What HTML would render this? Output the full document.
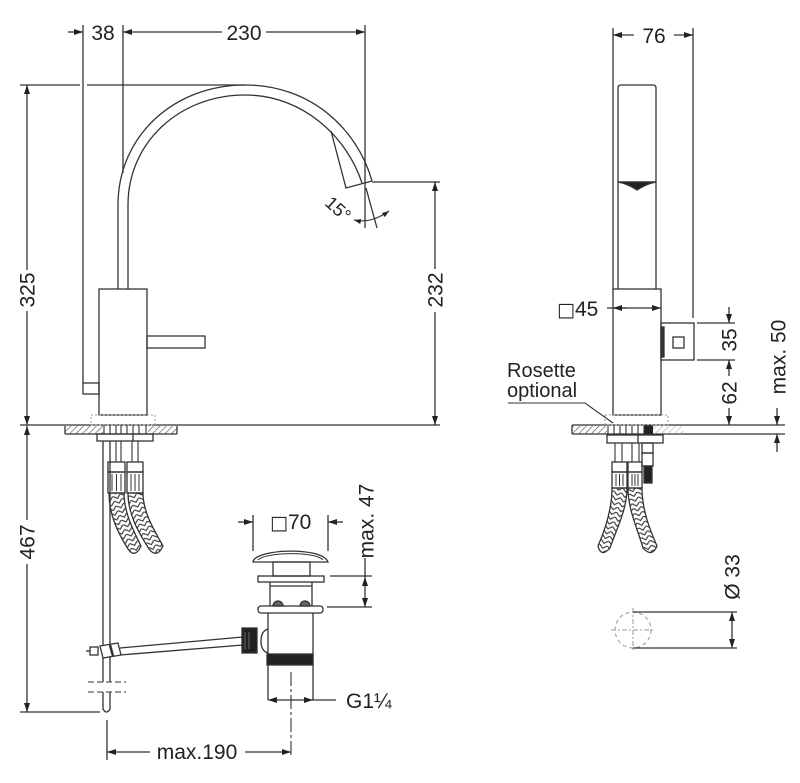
<!DOCTYPE html>
<html>
<head>
<meta charset="utf-8">
<style>
html,body{margin:0;padding:0;background:#fff;}
svg{display:block;}
text{font-family:"Liberation Sans",Arial,"DejaVu Sans",sans-serif;font-size:21px;fill:#222;}
.sym{font-family:"DejaVu Sans",sans-serif;font-size:19px;}
</style>
</head>
<body>
<svg width="800" height="783" viewBox="0 0 800 783" xmlns="http://www.w3.org/2000/svg">
<defs>
  <marker id="ar" viewBox="0 0 9 6" refX="9" refY="3" markerWidth="9" markerHeight="6" markerUnits="userSpaceOnUse" orient="auto-start-reverse">
    <path d="M0,0 L9,3 L0,6 Z" fill="#222"/>
  </marker>
  <marker id="sa" viewBox="0 0 7 5" refX="7" refY="2.5" markerWidth="7" markerHeight="5" markerUnits="userSpaceOnUse" orient="auto-start-reverse">
    <path d="M0,0 L7,2.5 L0,5 Z" fill="#222"/>
  </marker>
  <pattern id="hatch" width="4.5" height="4.5" patternUnits="userSpaceOnUse" patternTransform="rotate(45)">
    <line x1="0" y1="0" x2="0" y2="4.5" stroke="#555" stroke-width="1.3"/>
  </pattern>
  <pattern id="hatchL" width="4.5" height="4.5" patternUnits="userSpaceOnUse" patternTransform="rotate(45)">
    <line x1="0" y1="0" x2="0" y2="4.5" stroke="#aaa" stroke-width="1.2"/>
  </pattern>
  <pattern id="braidA" width="8" height="5" patternUnits="userSpaceOnUse" patternTransform="rotate(-20)">
    <path d="M0,0 L4,3.5 L8,0" fill="none" stroke="#333" stroke-width="1.1"/>
  </pattern>
  <pattern id="braidB" width="8" height="5" patternUnits="userSpaceOnUse" patternTransform="rotate(15)">
    <path d="M0,0 L4,3.5 L8,0" fill="none" stroke="#333" stroke-width="1.1"/>
  </pattern>
  <pattern id="braidC" width="8" height="5" patternUnits="userSpaceOnUse" patternTransform="rotate(-15)">
    <path d="M0,0 L4,3.5 L8,0" fill="none" stroke="#333" stroke-width="1.1"/>
  </pattern>
</defs>

<!-- ================= LEFT VIEW ================= -->
<g stroke="#333" stroke-width="1.3" fill="none">
  <path d="M83,25 V383"/>
  <path d="M123,25 V173"/>
  <path d="M365,25 V228"/>
  <path d="M68,32 H83" marker-end="url(#ar)"/>
  <path d="M123,32 H222" marker-start="url(#ar)"/>
  <path d="M266,32 H365" marker-end="url(#ar)"/>
  <path d="M20,85 H80 M87,85 H245"/>
  <path d="M27,85 V270" marker-start="url(#ar)"/>
  <path d="M27,311 V425" marker-end="url(#ar)"/>
  <path d="M27,426 V520" marker-start="url(#ar)"/>
  <path d="M27,564 V712" marker-end="url(#ar)"/>
  <path d="M20,712 H100"/>

  <path d="M118,289 V205 C118,135 175,85 245,85 C310,85 357,128 372,181"/>
  <path d="M128,289 V205 C128,142 180,95 245,95 C303,95 347,137 362,183"/>
  <path d="M331,131 L346,188 L372,181"/>
  <path d="M366,188 L377,228"/>
  <path d="M354,220 Q371,224 389,211" stroke-width="1.1" marker-start="url(#sa)" marker-end="url(#sa)"/>

  <path d="M372,182 H440"/>
  <path d="M435,182 V269" marker-start="url(#ar)"/>
  <path d="M435,312 V425" marker-end="url(#ar)"/>

  <path d="M20,425 H440"/>

  <rect x="99" y="289" width="48" height="126"/>
  <rect x="147" y="336" width="58" height="12"/>
  <rect x="83" y="383" width="16" height="11"/>
  <rect x="91" y="415" width="64" height="10" stroke="#999" stroke-width="1" stroke-dasharray="2,2"/>

  <rect x="65" y="426" width="38" height="8" fill="url(#hatch)" stroke="none"/>
  <rect x="148" y="426" width="29" height="8" fill="url(#hatch)" stroke="none"/>
  <path d="M65,434 H177 M65,426 V434 M177,426 V434"/>
  <path d="M104,425 V434 M110,425 V434 M116,425 V434 M121,425 V434 M127,425 V434 M133,425 V434 M139,425 V434 M146,425 V434" stroke-width="1.1"/>
  <rect x="97" y="434" width="56" height="7"/>
  <path d="M133,434 V441"/>

  <path d="M103,441 V682 M110,441 V682"/>
  <path d="M88,682 H126 M88,692 H126" stroke-dasharray="6,3" stroke-width="1.1"/>
  <path d="M103,692 V709 Q106.5,715 110,709 V692"/>

  <path d="M116,441 V462 M121,441 V462 M132,441 V462 M138,441 V462" stroke-width="1.1"/>
  <rect x="108" y="462" width="17" height="10"/>
  <rect x="108" y="472" width="17" height="21"/>
  <path d="M112,474 V491 M116.5,474 V491 M121,474 V491" stroke-width="1"/>
  <rect x="127" y="462" width="16" height="10"/>
  <rect x="127" y="472" width="16" height="21"/>
  <path d="M131,474 V491 M135,474 V491 M139,474 V491" stroke-width="1"/>
  <path d="M109,493 C109,515 118,533 128,549 Q135,559 141,546 C133,530 124,512 124,493 Z" fill="url(#braidA)"/>
  <path d="M128,493 C128,515 139,533 149,549 Q157,559 163,546 C154,530 143,512 143,493 Z" fill="url(#braidA)"/>

  <rect x="90" y="647" width="8" height="8"/>
  <path d="M86,651 H90"/>
  <path d="M100,646 L118,643 L121,655 L103,658 Z" fill="#fff"/>
  <path d="M110,645 L113,656" stroke-width="2.5"/>
  <path d="M120,648 L243,637 M120,655 L243,645"/>

  <path d="M253,562 C254,549 322,546 328,562 Z" fill="#fff"/>
  <path d="M258,560 C265,552 316,551 323,560" stroke-width="1"/>
  <rect x="273" y="562" width="37" height="14"/>
  <rect x="258" y="576" width="66" height="6"/>
  <path d="M270,582 V606 M312,582 V606 M270,586 H312"/>
  <path d="M273,606 A5,5 0 0 1 283,606 Z M300,606 A5,5 0 0 1 310,606 Z" fill="#666"/>
  <rect x="258" y="606" width="65" height="7" rx="3"/>
  <path d="M268,613 V700 M313,613 V700"/>
  <rect x="267" y="654" width="46" height="11" fill="#222"/>
  <path d="M268,629 Q261,631 261,641 Q261,651 268,653"/>
  <rect x="242" y="628" width="15" height="25" fill="#222"/>
  <path d="M245,632 V649 M249,632 V649" stroke="#777" stroke-width="0.8"/>
  <path d="M291,672 V757" stroke-width="1.1" stroke-dasharray="14,3,3,3"/>
  <path d="M291,700 H268" marker-end="url(#ar)"/>
  <path d="M291,700 H313" marker-end="url(#ar)"/>
  <path d="M313,700 H336"/>
  <path d="M150,752 H107" marker-end="url(#ar)"/>
  <path d="M245,752 H291" marker-end="url(#ar)"/>
  <path d="M107,720 V760"/>
  <path d="M238,522 H253" marker-end="url(#ar)"/>
  <path d="M343,522 H328" marker-end="url(#ar)"/>
  <path d="M253,515 V551 M328,515 V551"/>
  <path d="M330,576 H372 M327,607 H372"/>
  <path d="M365,558 V577"/>
  <path d="M365,577 V607" marker-start="url(#ar)" marker-end="url(#ar)"/>
</g>

<text x="103" y="40" text-anchor="middle">38</text>
<text x="244" y="40" text-anchor="middle">230</text>
<text transform="translate(27,290) rotate(-90)" y="7.5" text-anchor="middle">325</text>
<text transform="translate(435,290) rotate(-90)" y="7.5" text-anchor="middle">232</text>
<text transform="translate(27,542) rotate(-90)" y="7.5" text-anchor="middle">467</text>
<text transform="translate(338,209) rotate(42)" y="6" text-anchor="middle" style="font-size:18px">15°</text>
<text transform="translate(366,521) rotate(-90)" y="7.5" text-anchor="middle">max. 47</text>
<text x="270" y="529"><tspan class="sym">□</tspan>70</text>
<text x="346" y="708">G1¼</text>
<text x="197" y="759" text-anchor="middle">max.190</text>

<!-- ================= RIGHT VIEW ================= -->
<g stroke="#333" stroke-width="1.3" fill="none">
  <path d="M613,28 V289 M693,28 V318"/>
  <path d="M634,35 H613" marker-end="url(#ar)"/>
  <path d="M674,35 H693" marker-end="url(#ar)"/>
  <path d="M618,289 V88 Q618,85 621,85 H653 Q656,85 656,88 V289"/>
  <path d="M618,182 H656"/>
  <path d="M618,182 L656,182 Q646,184 637,190 Q628,184 618,182 Z" fill="#222"/>
  <rect x="613" y="289" width="48" height="126"/>
  <rect x="661" y="323" width="33" height="37"/>
  <rect x="673" y="337" width="11" height="11"/>
  <rect x="661" y="327" width="3" height="30" fill="#333"/>
  <path d="M607,308 H661" marker-end="url(#ar)"/>
  <path d="M626,308 H613" marker-end="url(#ar)"/>
  <path d="M697,323 H735 M697,360 H735"/>
  <path d="M729,307 V323" marker-end="url(#ar)"/>
  <path d="M729,376 V360" marker-end="url(#ar)"/>
  <path d="M729,408 V425" marker-end="url(#ar)"/>
  <path d="M777,408 V425" marker-end="url(#ar)"/>
  <path d="M777,452 V434" marker-end="url(#ar)"/>
  <path d="M572,425 H785 M572,434 H785 M572,425 V434"/>
  <rect x="572" y="426" width="35" height="8" fill="url(#hatch)" stroke="none"/>
  <rect x="653" y="426" width="30" height="8" fill="url(#hatchL)" stroke="none"/>
  <rect x="644" y="425" width="9" height="9" fill="#222" stroke="none"/>
  <path d="M608,425 V434 M614,425 V434 M620,425 V434 M626,425 V434 M632,425 V434 M638,425 V434 M644,425 V434" stroke-width="1.1"/>
  <rect x="605" y="415" width="63" height="10" stroke="#999" stroke-width="1" stroke-dasharray="2,2"/>
  <path d="M508,403 H585 L613,423" stroke-width="1.1"/>
  <rect x="607" y="435" width="56" height="8"/>
  <path d="M638,435 V443"/>
  <path d="M615,443 V462 M622,443 V462 M632,443 V462 M639,443 V462" stroke-width="1.1"/>
  <rect x="642" y="443" width="11" height="10"/>
  <rect x="642" y="453" width="11" height="13"/>
  <rect x="644" y="466" width="8" height="17" fill="#222"/>
  <rect x="612" y="462" width="15" height="10"/>
  <rect x="612" y="472" width="15" height="16"/>
  <path d="M616,474 V486 M619.5,474 V486 M623,474 V486" stroke-width="1"/>
  <rect x="628" y="462" width="14" height="10"/>
  <rect x="628" y="472" width="14" height="16"/>
  <path d="M632,474 V486 M635,474 V486 M638,474 V486" stroke-width="1"/>
  <path d="M612,488 C612,510 605,530 598,546 Q601,558 610,548 C616,530 627,510 627,488 Z" fill="url(#braidB)"/>
  <path d="M628,488 C628,510 638,530 643,548 Q652,558 657,546 C650,530 642,510 642,488 Z" fill="url(#braidC)"/>
  <circle cx="633" cy="630" r="18" stroke="#999" stroke-width="1" stroke-dasharray="4,3"/>
  <path d="M611,630 H655 M633,608 V652" stroke="#999" stroke-width="1" stroke-dasharray="5,2,2,2"/>
  <path d="M633,612 H737 M633,648 H737"/>
  <path d="M732,612 V648" marker-start="url(#ar)" marker-end="url(#ar)"/>
</g>

<text x="654" y="43" text-anchor="middle">76</text>
<text x="557" y="316"><tspan class="sym">□</tspan>45</text>
<text transform="translate(729,340) rotate(-90)" y="7.5" text-anchor="middle">35</text>
<text transform="translate(729,393) rotate(-90)" y="7.5" text-anchor="middle">62</text>
<text transform="translate(778,357) rotate(-90)" y="7.5" text-anchor="middle">max. 50</text>
<text transform="translate(732,577) rotate(-90)" y="7.5" text-anchor="middle">Ø 33</text>
<text x="507" y="377" style="font-size:20px">Rosette</text>
<text x="507" y="397" style="font-size:20px">optional</text>
</svg>
</body>
</html>
